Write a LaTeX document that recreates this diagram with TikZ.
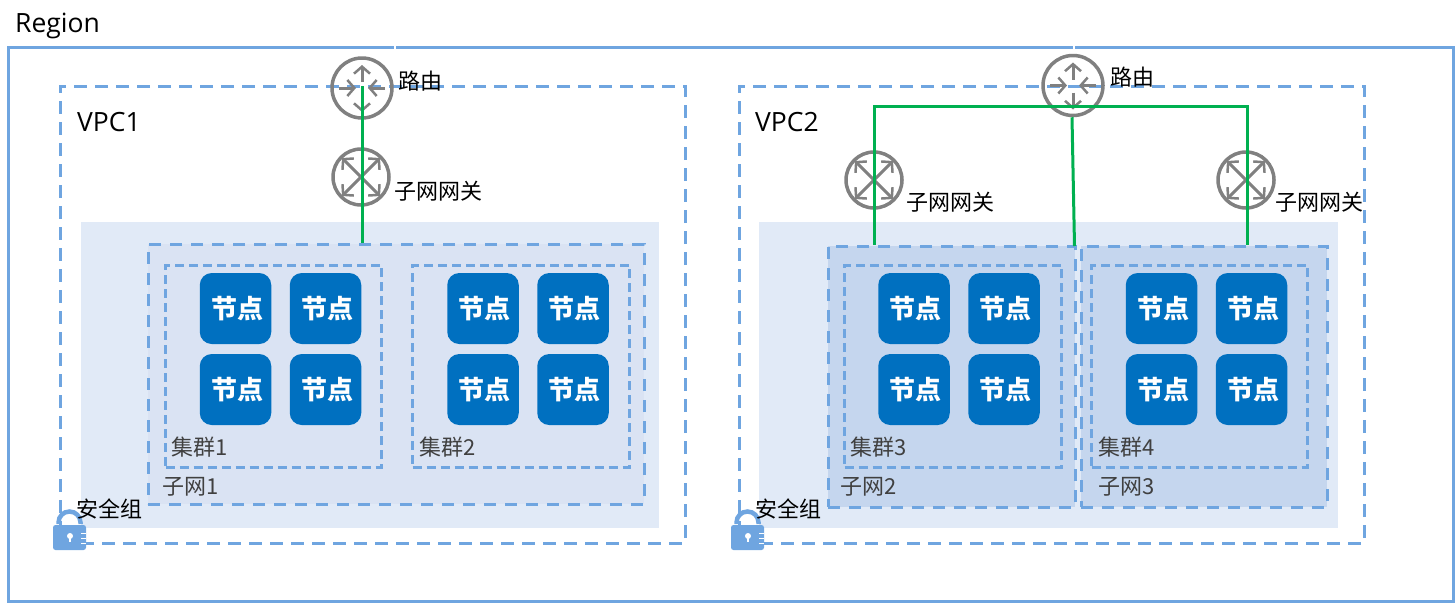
\documentclass[tikz,border=0pt]{standalone}
\usepackage{fontspec}
\setmainfont{Noto Sans CJK SC}
\newfontfamily\latinfont{Open Sans}
\usetikzlibrary{arrows.meta}

\definecolor{lineblue}{HTML}{6FA5E0}
\definecolor{paleblue}{HTML}{E1EAF7}
\definecolor{subnetpale}{HTML}{DAE3F3}
\definecolor{subnetdeep}{HTML}{C5D6EE}
\definecolor{nodeblue}{HTML}{0070C0}
\definecolor{linkgreen}{HTML}{00B050}
\definecolor{icongray}{HTML}{808080}
\definecolor{labelgray}{HTML}{404040}

\tikzset{
  vpcbox/.style={draw=lineblue, line width=3pt, dash pattern=on 13pt off 8pt},
  subnetbox/.style={draw=lineblue, line width=3pt, dash pattern=on 12pt off 9pt,
    preaction={draw=paleblue, solid, line width=3pt}},
  clusterbox/.style={draw=lineblue, line width=3pt, dash pattern=on 9pt off 5pt},
  worker/.style={fill=nodeblue, rounded corners=12pt, minimum width=71.5pt, minimum height=71pt,
    inner sep=0pt, text=white, font=\fontsize{26}{28}\selectfont\bfseries},
  routerball/.style={circle, draw=icongray, line width=3.5pt, minimum size=60pt, inner sep=0pt},
  gateball/.style={circle, draw=icongray, line width=3.5pt, minimum size=56pt, inner sep=0pt},
  iconarrow/.style={draw=icongray, line width=3pt, -{Straight Barb[length=7pt,width=16pt,line width=2.5pt]}},
  greenlink/.style={draw=linkgreen, line width=3pt},
  blacklabel/.style={inner sep=0pt, font=\fontsize{22}{24}\selectfont},
  graylabel/.style={inner sep=0pt, text=labelgray, font=\fontsize{22}{24}\selectfont},
  bigtitle/.style={inner sep=0pt, anchor=west, font=\latinfont\fontsize{26.5}{28}\selectfont}
}

\newcommand{\workertext}{\raisebox{-1.5pt}{\hspace{3pt}节点}}
\newcommand{\routericon}[1]{
  \begin{scope}[shift={(#1.center)}]
    \draw[iconarrow] (0,6) -- (0,23);
    \draw[iconarrow] (0,-7) -- (0,-24);
    \draw[iconarrow] (-23,0) -- (-6,0);
    \draw[iconarrow] (23,0) -- (6,0);
  \end{scope}
}
\newcommand{\gateicon}[1]{
  \begin{scope}[shift={(#1.center)}]
    \foreach \sx/\sy in {1/1,1/-1,-1/1,-1/-1}
      \draw[iconarrow] (0,0) -- (19*\sx,19*\sy);
  \end{scope}
}
\newcommand{\lockicon}[1]{
  \begin{scope}[shift={(#1)}]
    \fill[lineblue, rounded corners=2.5pt] (0,0) rectangle (33,-25);
    \draw[lineblue, line width=4.5pt] (5.5,1) -- (5.5,2.5) arc (180:0:11) -- (27.5,1);
    \fill[white] (17,-11) circle (3);
    \fill[white] (16,-11) rectangle (18,-17);
    \fill[white] (28,-7.5) rectangle (33,-9);
    \fill[white] (28,-12.5) rectangle (33,-14);
    \fill[white] (28,-17.5) rectangle (33,-19);
  \end{scope}
}

\begin{document}
\begin{tikzpicture}[x=1pt,y=1pt]
\useasboundingbox (0,0) rectangle (1456,-603);

% region
\node (regionBox) [draw=lineblue, line width=3pt, minimum width=1445pt, minimum height=554pt, inner sep=0pt] at (730.5,-324) {};
\draw[white, line width=2pt] (395,-45) -- (395,-49);
\draw[white, line width=2pt] (1073.5,-45) -- (1073.5,-49);
\node (regionText) [bigtitle] at (15,-26) {Region};

% vpc
\node (vpcA) [vpcbox, minimum width=625pt, minimum height=457pt, inner sep=0pt] at (372.5,-314.5) {};
\node (vpcB) [vpcbox, minimum width=625pt, minimum height=457pt, inner sep=0pt] at (1051.5,-314.5) {};
\node (vpcAText) [bigtitle] at (77,-122) {VPC1};
\node (vpcBText) [bigtitle] at (755,-122) {VPC2};

% security group background
\node (groupA) [fill=paleblue, minimum width=578pt, minimum height=306pt, inner sep=0pt] at (370,-375) {};
\node (groupB) [fill=paleblue, minimum width=579pt, minimum height=306pt, inner sep=0pt] at (1048.5,-375) {};

% subnets
\node (subnetA) [subnetbox, fill=subnetpale, minimum width=496pt, minimum height=260pt, inner sep=0pt] at (396,-374) {};
\node (subnetB) [subnetbox, fill=subnetdeep, minimum width=247pt, minimum height=261pt, inner sep=0pt] at (951.5,-376.5) {};
\node (subnetC) [subnetbox, fill=subnetdeep, minimum width=246pt, minimum height=261pt, inner sep=0pt] at (1204,-376.5) {};

% clusters
\node (clusterA) [clusterbox, minimum width=216pt, minimum height=202pt, inner sep=0pt] at (273.5,-366) {};
\node (clusterB) [clusterbox, minimum width=217pt, minimum height=202pt, inner sep=0pt] at (521,-366) {};
\node (clusterC) [clusterbox, minimum width=217pt, minimum height=202pt, inner sep=0pt] at (953,-366) {};
\node (clusterD) [clusterbox, minimum width=216pt, minimum height=202pt, inner sep=0pt] at (1199.5,-366) {};

% workers
\foreach \col/\x in {a/235.5,b/325.5,c/483,d/573,e/914,f/1004,g/1161.5,h/1251.5}
  \foreach \row/\y in {1/-308.5,2/-389.5}
    \node (worker\col\row) [worker] at (\x,\y) {\workertext};

% small labels
\node (clusterAText) [graylabel, anchor=west] at (171,-447) {集群1};
\node (clusterBText) [graylabel, anchor=west] at (419,-447) {集群2};
\node (clusterCText) [graylabel, anchor=west] at (850,-447) {集群3};
\node (clusterDText) [graylabel, anchor=west] at (1098,-447) {集群4};
\node (subnetAText) [graylabel, anchor=west] at (162,-487) {子网1};
\node (subnetBText) [graylabel, anchor=west] at (840,-487) {子网2};
\node (subnetCText) [graylabel, anchor=west] at (1098,-487) {子网3};

% routers and gateways
\node (routerA) [routerball] at (362,-88) {};
\node (routerB) [routerball] at (1073,-85.5) {};
\node (gateA) [gateball] at (361,-177) {};
\node (gateB) [gateball] at (874,-180) {};
\node (gateC) [gateball] at (1246,-180) {};
\routericon{routerA}
\routericon{routerB}
\gateicon{gateA}
\gateicon{gateB}
\gateicon{gateC}
\node (routerAText) [blacklabel] at (420,-81) {路由};
\node (routerBText) [blacklabel] at (1132,-77) {路由};
\node (gateAText) [blacklabel] at (438.5,-191) {子网网关};
\node (gateBText) [blacklabel] at (950.5,-202) {子网网关};
\node (gateCText) [blacklabel] at (1319.5,-202) {子网网关};

% links
\coordinate (busLeft) at (874.5,-106);
\coordinate (busRight) at (1247.5,-106);
\coordinate (busDown) at (1074.5,-246);
\draw[greenlink] ([yshift=2pt]routerA.center) -- (routerA |- subnetA.north);
\draw[greenlink] (busLeft |- subnetB.north) -- (busLeft) -- (busRight) -- (busRight |- subnetC.north);
\draw[greenlink] ([xshift=-1pt]routerB.south) -- (busDown);

% security group
\lockicon{53,-525}
\lockicon{731,-525}
\node (groupAText) [blacklabel] at (109.5,-509) {安全组};
\node (groupBText) [blacklabel] at (788,-509) {安全组};
\end{tikzpicture}
\end{document}
